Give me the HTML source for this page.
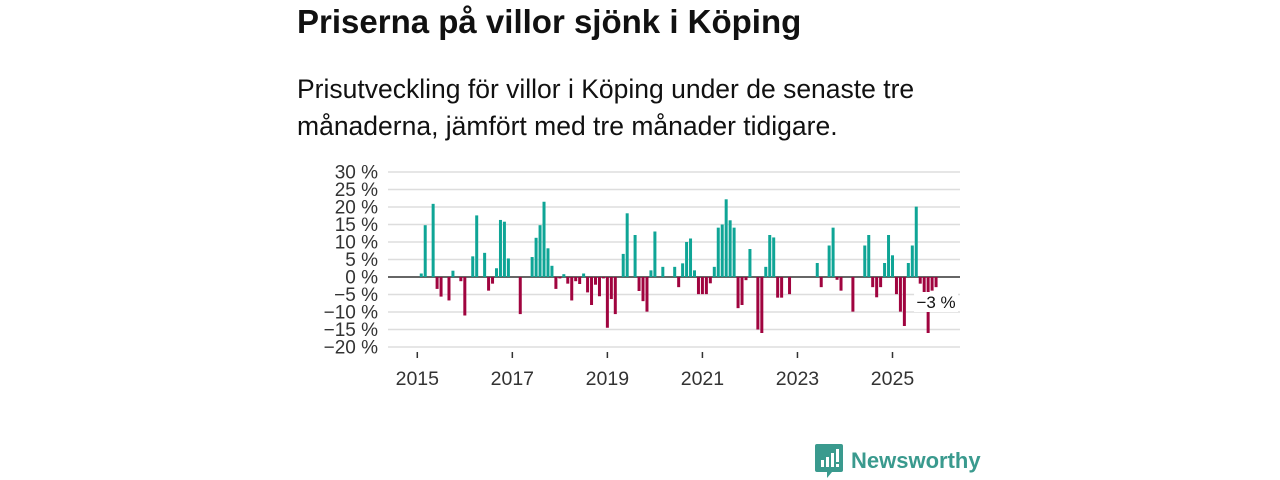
<!DOCTYPE html>
<html><head><meta charset="utf-8">
<style>
body{margin:0;width:1280px;height:480px;background:#fff;font-family:"Liberation Sans",sans-serif;overflow:hidden;position:relative}
#title{position:absolute;left:297px;top:3px;font-size:33px;font-weight:bold;color:#111;margin:0}
#sub{position:absolute;left:297px;top:71px;font-size:26.5px;line-height:37px;color:#111;width:700px}
svg{position:absolute;left:0;top:0}
#logo{position:absolute;left:815px;top:444px;display:flex;align-items:center}
#logo span{font-size:22px;color:#3a9a8e;font-weight:bold;margin-left:8px}
</style></head><body>
<h1 id="title">Priserna på villor sjönk i Köping</h1>
<div id="sub">Prisutveckling för villor i Köping under de senaste tre månaderna, jämfört med tre månader tidigare.</div>
<svg id="chart" width="1280" height="480"></svg>
<div id="logo">
<svg width="28" height="34" viewBox="0 0 28 34" style="position:static"><path d="M2 0h24a2 2 0 0 1 2 2v24a2 2 0 0 1-2 2h-9l-5 6v-6H2a2 2 0 0 1-2-2V2a2 2 0 0 1 2-2z" fill="#3a9a8e"/><rect x="6" y="16" width="3" height="7" fill="#fff"/><rect x="11" y="13" width="3" height="10" fill="#fff"/><rect x="16" y="9" width="3" height="14" fill="#fff"/><rect x="21" y="5" width="3" height="13" fill="#fff"/><rect x="21" y="20" width="3" height="3" fill="#fff"/></svg>
<span>Newsworthy</span></div>
<script>
const values=[null,1,14.8,null,20.9,-3.4,-5.6,null,-6.7,1.8,null,-1.2,
-11,null,5.9,17.6,null,6.9,-3.9,-1.9,2.5,16.3,15.8,5.3,
null,null,-10.6,null,null,5.7,11.2,14.8,21.5,8.2,3.2,-3.4,
-0.4,0.8,-1.9,-6.7,-1.2,-2,1,-4.4,-8,-2.2,-5.5,-0.4,
-14.5,-6.3,-10.6,null,6.6,18.2,null,12,-4,-6.9,-9.9,1.9,
13,null,2.9,null,null,2.9,-2.9,3.9,10,11,1.9,-4.9,
-4.9,-4.9,-1.8,2.9,14.1,15,22.2,16.2,14.1,-8.9,-8,-0.9,
8,null,-15,-16,2.9,12,11.3,-5.9,-5.9,null,-4.9,null,
null,null,null,null,null,4,-2.9,null,9,14.1,-0.8,-3.9,
null,null,-9.9,null,null,9,12,-2.9,-5.8,-2.9,4,12,
6.2,-4.9,-9.9,-14,4,9,20.1,-1.9,-5.8,-16,-3.9,-2.9];
const yTicks=[30,25,20,15,10,5,0,-5,-10,-15,-20];
const xTickYears=[2015,2017,2019,2021,2023,2025];
const lastLabel="−3 %";
const svg=document.getElementById('chart');
const NS='http://www.w3.org/2000/svg';
const y=v=>277-v*3.5;
const x=i=>417.3+i*3.96;
function mk(t,a){const e=document.createElementNS(NS,t);for(const k in a)e.setAttribute(k,a[k]);svg.appendChild(e);return e;}
yTicks.forEach(t=>{
 if(t!==0){const g=mk('line',{x1:388,x2:960,y1:y(t),y2:y(t),stroke:'#ddd','stroke-width':1.5});
 
 }
 const l=mk('text',{x:378,y:y(t)+6.5,'text-anchor':'end','font-size':19,fill:'#333','font-family':'Liberation Sans,sans-serif'});
 l.textContent=(t<0?'−'+(-t):t)+' %';
 
 
});
const bl=mk('line',{x1:388,x2:960,y1:y(0),y2:y(0),stroke:'#333','stroke-width':1.5});


values.forEach((v,i)=>{
 if(v===null)return;
 const b=mk('rect',{x:x(i)-1.5,width:3,y:Math.min(y(v),y(0)),height:Math.abs(y(v)-y(0)),fill:v>=0?'#0fa596':'#a0043f'});
 
 
});
xTickYears.forEach(yr=>{
 const i=(yr-2015)*12;
 const t=mk('line',{x1:x(i),x2:x(i),y1:352,y2:358,stroke:'#333','stroke-width':1.5});
 
 
 const l=mk('text',{x:x(i),y:385,'text-anchor':'middle','font-size':19.5,fill:'#333','font-family':'Liberation Sans,sans-serif'});
 l.textContent=yr;
 
 
});
const li=values.length-1;
const bg=mk('rect',{x:x(li)-22,y:292,width:44,height:20,fill:'#fff'});


const lt=mk('text',{x:x(li),y:308,'text-anchor':'middle','font-size':17,fill:'#111','font-family':'Liberation Sans,sans-serif'});
lt.textContent=lastLabel;


</script>
</body></html>
